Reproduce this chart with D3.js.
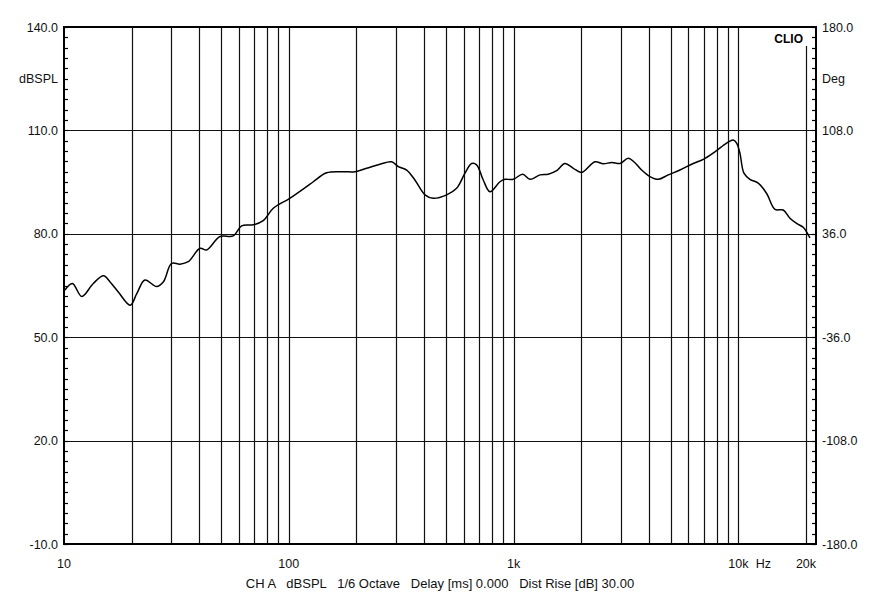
<!DOCTYPE html>
<html><head><meta charset="utf-8">
<script src="https://cdn.jsdelivr.net/npm/d3@7"></script>
<style>
html,body{margin:0;padding:0;background:#fff;}
svg{display:block;font-family:Arial,"Liberation Sans",sans-serif;}
</style></head>
<body><svg id="c" width="880" height="595"></svg>
<script>
// Data
const freqs = [10.1,10.9,12.0,13.5,15.0,16.0,17.4,19.7,21.1,22.9,25.8,27.7,30.1,32.8,35.7,40.3,43.1,49.4,56.6,61.7,69.5,77.0,85.3,101,120,128.5,147.4,174.8,197,222,254.5,287,307,334.6,364,403.6,439,504,558,608,651,685,733,785,870,915,997,1098,1183,1311,1427,1555,1693,1844,2009,2302,2506,2732,2974,3238,3467,3714,4045,4404,4878,5498,6302,6983,7869,8872,9491,9826,10164,10590,11262,12262,13366,14553,15842,16966,18170,19444,20462,20820];
const spl = [63.7,65.6,61.8,65.6,67.8,66.1,63.2,59.3,62.7,66.6,64.7,66.1,71.4,71.2,71.9,75.8,75.3,79.2,79.4,82.3,82.6,83.8,87.4,90.3,93.7,95.1,97.7,98.0,98.0,99.0,100.2,100.9,99.5,98.5,95.6,91.3,90.3,91.3,93.2,97.6,100.4,100.0,95.6,92.2,95.1,95.8,95.8,97.3,95.8,97.1,97.3,98.3,100.4,99.0,97.8,100.9,100.3,100.7,100.4,101.9,100.6,98.5,96.6,95.8,97.1,98.5,100.4,101.6,103.8,106.3,107.2,106.3,103.4,97.6,95.8,94.7,91.7,87.1,86.9,84.5,83.0,81.9,79.7,78.8];
const leftTicks = [140, 110, 80, 50, 20, -10];
const rightTickLabels = ["180.0","108.0","36.0","-36.0","-108.0","-180.0"];
const gridFreqs = [20,30,40,50,60,70,80,90,100,200,300,400,500,600,700,800,900,1000,2000,3000,4000,5000,6000,7000,8000,9000,10000];
const xLabels = [[10,"10"],[100,"100"],[1000,"1k"],[10000,"10k"],[20000,"20k"]];

const svg = d3.select("#c");
const L=64, R=816, T=27, B=544;
const x = d3.scaleLog().domain([10,20000]).range([L,806]);
const y = d3.scaleLinear().domain([-10,140]).range([B,T]);

svg.append("rect").attr("width",880).attr("height",595).attr("fill","#fff");

const gridCol = "#111", gridW = 1.2;
// vertical grid
svg.append("g").selectAll("line").data(gridFreqs).join("line")
  .attr("x1",d=>Math.round(x(d))+0.5).attr("x2",d=>Math.round(x(d))+0.5)
  .attr("y1",T).attr("y2",B).attr("stroke",gridCol).attr("stroke-width",gridW);
// 20k line (partial, below CLIO)
svg.append("line").attr("x1",Math.round(x(20000))+0.5).attr("x2",Math.round(x(20000))+0.5)
  .attr("y1",46).attr("y2",B).attr("stroke",gridCol).attr("stroke-width",gridW);
// horizontal grid
svg.append("g").selectAll("line").data([110,80,50,20]).join("line")
  .attr("x1",L).attr("x2",R).attr("y1",d=>Math.round(y(d))+0.5).attr("y2",d=>Math.round(y(d))+0.5)
  .attr("stroke",gridCol).attr("stroke-width",gridW);

// minor ticks
const minor = d3.range(-10,140.01,3);
svg.append("g").selectAll("line").data(minor).join("line")
  .attr("x1",L).attr("x2",L+4).attr("y1",d=>Math.round(y(d))+0.5).attr("y2",d=>Math.round(y(d))+0.5)
  .attr("stroke","#000").attr("stroke-width",1.2);
svg.append("g").selectAll("line").data(minor).join("line")
  .attr("x1",R-4).attr("x2",R).attr("y1",d=>Math.round(y(d))+0.5).attr("y2",d=>Math.round(y(d))+0.5)
  .attr("stroke","#000").attr("stroke-width",1.2);

// frame
svg.append("rect").attr("x",L).attr("y",T).attr("width",R-L).attr("height",B-T)
  .attr("fill","none").attr("stroke","#000").attr("stroke-width",2);

// curve
const line = d3.line().x((d,i)=>x(freqs[i])).y(d=>y(d)).curve(d3.curveCatmullRom.alpha(0.5));
svg.append("path").datum(spl).attr("d",line).attr("fill","none").attr("stroke","#000").attr("stroke-width",1.5);

// left labels
const fs = 12.5;
svg.append("g").selectAll("text").data(leftTicks).join("text")
  .attr("x",58).attr("y",d=>y(d)+4.5).attr("text-anchor","end").attr("font-size",fs).attr("fill","#111")
  .text(d=>d.toFixed(1));
svg.append("text").attr("x",58).attr("y",83).attr("text-anchor","end").attr("font-size",fs).attr("fill","#111").text("dBSPL");
// right labels
svg.append("g").selectAll("text").data(leftTicks).join("text")
  .attr("x",822).attr("y",d=>y(d)+4.5).attr("font-size",fs).attr("fill","#111")
  .text((d,i)=>rightTickLabels[i]);
svg.append("text").attr("x",822).attr("y",83).attr("font-size",fs).attr("fill","#111").text("Deg");
// x labels
svg.append("g").selectAll("text").data(xLabels).join("text")
  .attr("x",d=>x(d[0])).attr("y",568).attr("text-anchor","middle").attr("font-size",fs).attr("fill","#111")
  .text(d=>d[1]);
svg.append("text").attr("x",x(10000)+25).attr("y",568).attr("text-anchor","middle").attr("font-size",fs).attr("fill","#111").text("Hz");
// CLIO
svg.append("text").attr("x",803).attr("y",43).attr("text-anchor","end").attr("font-size",12).attr("font-weight","bold").attr("fill","#000").text("CLIO");
// footer
svg.append("text").attr("x",440).attr("y",588).attr("text-anchor","middle").attr("font-size",13).attr("fill","#111")
  .style("white-space","pre").text("CH A   dBSPL   1/6 Octave   Delay [ms] 0.000   Dist Rise [dB] 30.00");
</script></body></html>
